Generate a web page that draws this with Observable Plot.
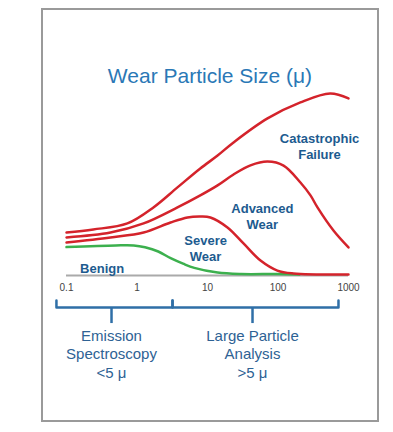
<!DOCTYPE html>
<html><head><meta charset="utf-8">
<script src="https://cdn.jsdelivr.net/npm/d3@7"></script>
<script src="https://cdn.jsdelivr.net/npm/@observablehq/plot@0.6"></script>
<style>
html,body{margin:0;padding:0;background:#fff;overflow:hidden;}
#wrap{position:relative;width:393px;height:432px;font-family:"Liberation Sans",Arial,sans-serif;}
#frame{position:absolute;left:41px;top:8px;width:338px;height:414px;box-sizing:border-box;border:2px solid #9a9a9a;}
#title{position:absolute;left:0;width:420px;top:63px;text-align:center;font-size:21px;color:#2a78b6;line-height:26px;}
#chart{position:absolute;left:0;top:88px;}
</style></head>
<body><div id="wrap"><div id="frame"></div><div id="title">Wear Particle Size (μ)</div><div id="chart"></div></div>
<script>
// Particle size (μ, log scale) and relative amount for each wear mode
const catX = [0.1, 0.24, 0.73, 1.71, 3.75, 7.9, 13.9, 23.4, 71, 208, 550, 1000];
const catY = [23.6, 25.3, 28.6, 37.4, 48.4, 58.8, 65.9, 73.1, 86.3, 95.1, 100, 97.3];
const advX = [0.1, 0.42, 1.24, 3.75, 7.9, 13.9, 23.4, 40.7, 71, 120, 208, 289, 363, 612, 1000];
const advY = [20.9, 23.6, 28.6, 37.4, 44.0, 49.5, 55.5, 60.5, 62.6, 60.4, 51.1, 44.0, 37.4, 24.7, 15.4];
const sevX = [0.1, 0.42, 1.24, 2.99, 5.2, 7.9, 11, 19.2, 32.4, 56.5, 98, 166, 1000];
const sevY = [18.1, 20.9, 23.6, 29.1, 31.9, 32.4, 31.9, 26.4, 17.6, 8.2, 2.7, 1.1, 0.5];
const benX = [0.1, 0.5, 0.9, 1.3, 2.0, 3.0, 4.5, 6.5, 13.9, 30, 100, 200];
const benY = [15.6, 16.5, 16.5, 15.5, 13.2, 9.5, 6.5, 4.2, 1.6, 0.8, 0.8, 0.5];

const tickValues = [0.1, 1, 10, 100, 1000];
const tickLabels = ["0.1", "1", "10", "100", "1000"];

const curveNames = ["Catastrophic Failure", "Advanced Wear", "Severe Wear", "Benign"];
const labelTexts = ["Catastrophic\nFailure", "Advanced\nWear", "Severe\nWear", "Benign"];
const labelX = [388, 60, 9.4, 0.32];
const labelY = [71.4, 32.7, 15.4, 4.4];

// Measurement ranges (brackets under the axis)
const rangeStart = [0.072, 3.19];
const rangeEnd = [3.19, 721];
const rangeMid = [0.435, 43.5];
const rangeTexts = ["Emission\nSpectroscopy\n<5 μ", "Large Particle\nAnalysis\n>5 μ"];

const toRows = (xs, ys, name) => xs.map((x, i) => ({x, y: ys[i], name}));
const red = toRows(catX, catY, curveNames[0])
  .concat(toRows(advX, advY, curveNames[1]))
  .concat(toRows(sevX, sevY, curveNames[2]));
const green = toRows(benX, benY, curveNames[3]);
const labels = labelTexts.map((t, i) => ({t, x: labelX[i], y: labelY[i]}));

const yTop = -13.7, yBar = -17.6, yDrop = -26.4, yText = -42.9;
const bracket = [];
rangeStart.forEach((s, i) => {
  const e = rangeEnd[i];
  bracket.push({x: s, y: yTop, k: i}, {x: s, y: yBar, k: i}, {x: e, y: yBar, k: i}, {x: e, y: yTop, k: i});
});
const ranges = rangeMid.map((m, i) => ({x: m, t: rangeTexts[i]}));
const font = "Liberation Sans, Arial, sans-serif";

const chart = Plot.plot({
  width: 393, height: 344,
  marginLeft: 66, marginRight: 45, marginTop: 5, marginBottom: 157,
  style: {background: "transparent", fontFamily: font, fontSize: "10px", color: "#444", overflow: "visible"},
  x: {type: "log", domain: [0.1, 1000], ticks: tickValues, tickFormat: d => tickLabels[tickValues.indexOf(d)], tickSize: 0, tickPadding: 8, label: null},
  y: {domain: [0, 100], axis: null},
  marks: [
    Plot.ruleY([0], {stroke: "#aaaaaa", strokeWidth: 2}),
    Plot.line(green, {x: "x", y: "y", z: "name", stroke: "#3cb04e", strokeWidth: 2.5, curve: "catmull-rom"}),
    Plot.line(red, {x: "x", y: "y", z: "name", stroke: "#d4232b", strokeWidth: 2.5, curve: "catmull-rom"}),
    Plot.text(labels, {x: "x", y: "y", text: "t", fontSize: 13, fontWeight: "bold", fill: "#1d5b8f", lineHeight: 1.23, textAnchor: "middle"}),
    Plot.line(bracket, {x: "x", y: "y", z: "k", stroke: "#2f6fa7", strokeWidth: 2.5, strokeLinejoin: "round"}),
    Plot.ruleX(rangeMid, {x: d => d, y1: yBar, y2: yDrop, stroke: "#2f6fa7", strokeWidth: 2.5}),
    Plot.text(ranges, {x: "x", y: yText, text: "t", fontSize: 15, fill: "#2e6294", lineHeight: 1.23, textAnchor: "middle"})
  ]
});
document.getElementById("chart").appendChild(chart);
</script>
</body></html>
